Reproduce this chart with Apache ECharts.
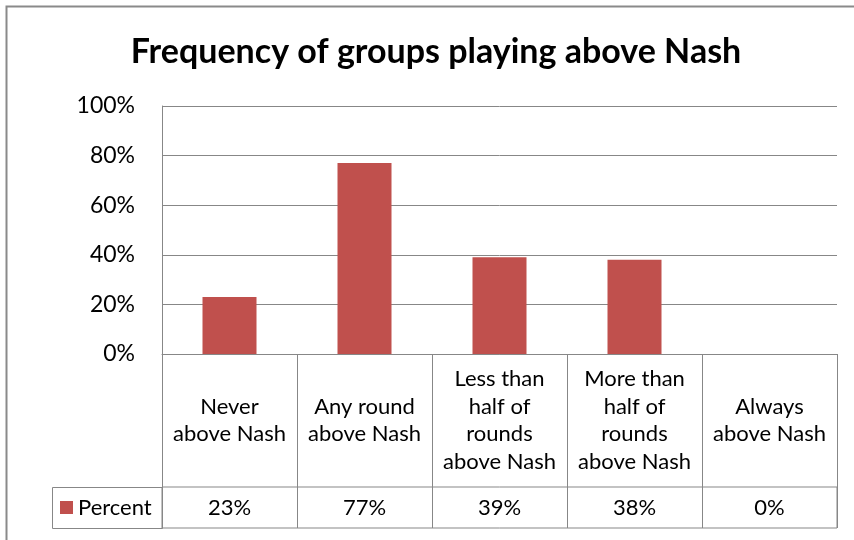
<!DOCTYPE html>
<html>
<head>
<meta charset="utf-8">
<script src="https://cdn.jsdelivr.net/npm/echarts@6/dist/echarts.min.js"></script>
<style>
  html, body { margin: 0; padding: 0; background: #fff; }
  #chart { width: 854px; height: 540px; }
</style>
</head>
<body>
<div id="chart"></div>
<script>
// Chart data
const titleText = 'Frequency of groups playing above Nash';
const seriesName = 'Percent';
const categories = [
  'Never\nabove Nash',
  'Any round\nabove Nash',
  'Less than\nhalf of\nrounds\nabove Nash',
  'More than\nhalf of\nrounds\nabove Nash',
  'Always\nabove Nash'
];
const percent = [23, 77, 39, 38, 0];
const yTicks = [0, 20, 40, 60, 80, 100];

// Layout
const FONT = 'Lato, "Noto Sans", sans-serif';
const LINE = '#878787';
const BAR = '#C0504D';
const plotLeft = 162, plotRight = 837, plotTop = 106, plotBottom = 354;
const catRowBottom = 487, tableBottom = 528, legendCellLeft = 52;
const titleCenterX = 436, titleMiddleY = 52;

const chart = echarts.init(document.getElementById('chart'), null, { renderer: 'canvas' });

chart.setOption({
  animation: false,
  backgroundColor: '#ffffff',
  legend: {
    data: [seriesName],
    left: legendCellLeft + 8,
    top: (catRowBottom + tableBottom) / 2 - 11,
    padding: 0,
    itemWidth: 13,
    itemHeight: 13,
    icon: 'rect',
    textStyle: { fontFamily: FONT, fontSize: 22, color: '#000', lineHeight: 22 }
  },
  grid: [
    { left: plotLeft, top: plotTop, width: plotRight - plotLeft, height: plotBottom - plotTop },
    {
      left: plotLeft, top: catRowBottom, width: plotRight - plotLeft, height: tableBottom - catRowBottom,
      show: true, borderColor: LINE, borderWidth: 1
    }
  ],
  xAxis: [
    {
      type: 'category',
      gridIndex: 0,
      data: categories,
      boundaryGap: true,
      axisLine: { show: true, lineStyle: { color: LINE, width: 1 } },
      axisTick: { show: true, interval: 0, length: tableBottom - plotBottom, lineStyle: { color: LINE, width: 1 } },
      axisLabel: {
        interval: 0,
        margin: (catRowBottom - plotBottom) / 2,
        verticalAlign: 'middle',
        align: 'center',
        lineHeight: 27.5,
        fontFamily: FONT,
        fontSize: 22,
        color: '#000'
      }
    },
    {
      type: 'category',
      gridIndex: 1,
      data: categories,
      position: 'top',
      axisLine: { show: false },
      axisTick: { show: false },
      axisLabel: {
        interval: 0,
        inside: true,
        margin: (tableBottom - catRowBottom) / 2,
        verticalAlign: 'middle',
        fontFamily: FONT,
        fontSize: 22,
        color: '#000',
        formatter: (v, i) => percent[i] + '%'
      }
    }
  ],
  yAxis: [
    {
      type: 'value',
      gridIndex: 0,
      min: yTicks[0],
      max: yTicks[yTicks.length - 1],
      interval: yTicks[1] - yTicks[0],
      axisLine: { show: true, lineStyle: { color: LINE, width: 1 } },
      axisTick: { show: false },
      splitLine: { show: true, lineStyle: { color: LINE, width: 1 } },
      axisLabel: {
        margin: 27,
        formatter: '{value}%',
        fontFamily: FONT,
        fontSize: 23,
        color: '#000'
      }
    },
    { type: 'value', gridIndex: 1, show: false }
  ],
  series: [
    {
      name: seriesName,
      type: 'bar',
      xAxisIndex: 0,
      yAxisIndex: 0,
      data: percent,
      barWidth: '40%',
      itemStyle: { color: BAR }
    }
  ],
  graphic: [
    {
      // chart title
      type: 'text',
      silent: true,
      x: titleCenterX,
      y: titleMiddleY,
      style: {
        text: titleText,
        align: 'center',
        verticalAlign: 'middle',
        fontFamily: FONT,
        fontWeight: 'bold',
        fontSize: 34,
        fill: '#000'
      }
    },
    {
      // legend-key cell of the data table
      type: 'rect',
      silent: true,
      shape: { x: legendCellLeft + 0.5, y: catRowBottom + 0.5, width: plotLeft - legendCellLeft, height: tableBottom - catRowBottom },
      style: { fill: 'none', stroke: LINE, lineWidth: 1 }
    },
    {
      // chart area frame
      type: 'rect',
      silent: true,
      shape: { x: 6.5, y: 6.5, width: 900, height: 600 },
      style: { fill: 'none', stroke: '#8a8a8a', lineWidth: 2 }
    }
  ]
});
</script>
</body>
</html>
